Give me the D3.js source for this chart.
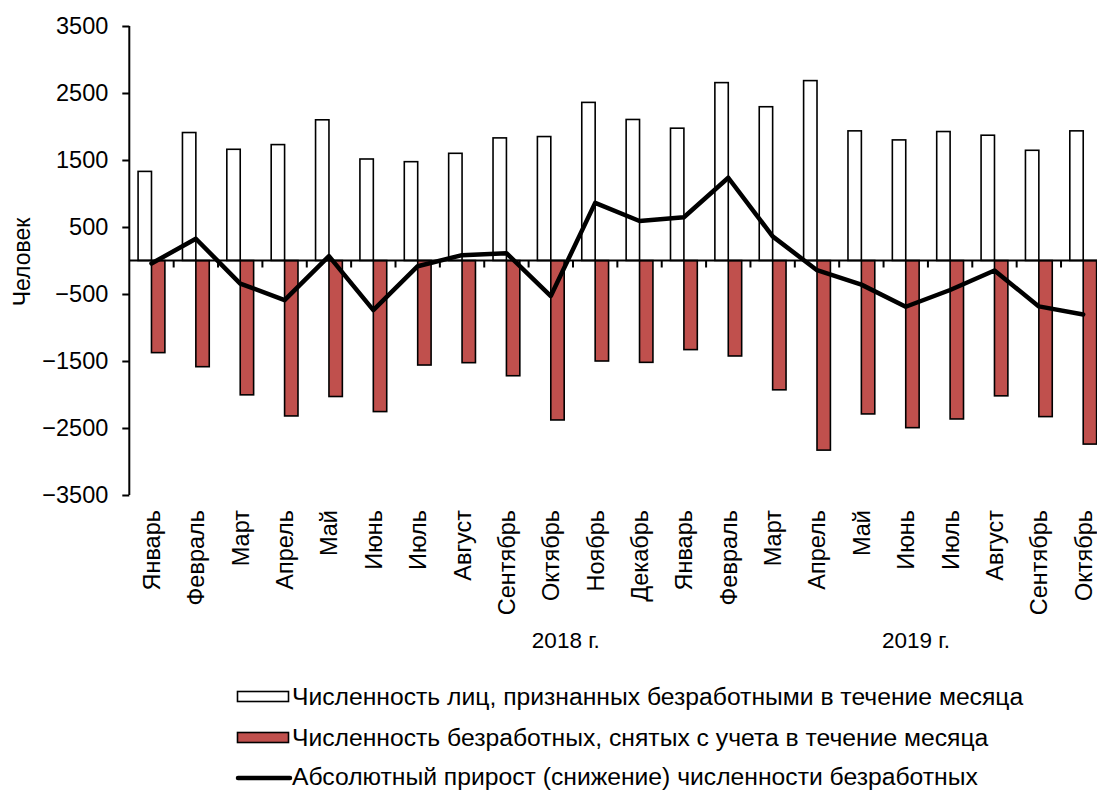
<!DOCTYPE html>
<html>
<head>
<meta charset="utf-8">
<script src="https://cdn.jsdelivr.net/npm/d3@7"></script>
<style>
  html, body { margin: 0; padding: 0; background: #fff; }
  svg { display: block; font-family: "Liberation Sans", Arial, sans-serif; }
</style>
</head>
<body>
<svg id="chart" width="1097" height="790"></svg>
<script>
const months = ["Январь","Февраль","Март","Апрель","Май","Июнь","Июль","Август","Сентябрь","Октябрь","Ноябрь","Декабрь",
                "Январь","Февраль","Март","Апрель","Май","Июнь","Июль","Август","Сентябрь","Октябрь"];
const years = ["2018 г.", "2019 г."];
const recognized = [1330, 1910, 1660, 1730, 2100, 1515, 1475, 1600, 1830, 1850, 2360, 2105,
                    1975, 2655, 2295, 2685, 1935, 1800, 1925, 1870, 1645, 1935];
const removed = [-1375, -1585, -2005, -2320, -2030, -2255, -1560, -1525, -1720, -2380, -1500, -1520,
                 -1330, -1425, -1930, -2830, -2290, -2495, -2365, -2020, -2330, -2740];
const growth = [-45, 325, -345, -590, 65, -740, -85, 80, 110, -530, 860, 590,
                645, 1235, 360, -145, -360, -690, -440, -150, -685, -805];
const yTicks = [-3500, -2500, -1500, -500, 500, 1500, 2500, 3500];
const legendLabels = ["Численность лиц, признанных безработными в течение месяца",
                      "Численность безработных, снятых с учета в течение месяца",
                      "Абсолютный прирост (снижение) численности безработных"];

const svg = d3.select("#chart");
const idx = d3.range(months.length);
const x = d3.scaleBand().domain(idx).range([129.3, 1105.4]).padding(0);
const y = d3.scaleLinear().domain([-3500, 3500]).range([495, 26]);
const bw = 13.4;
const red = "#C0504D";
const cx = i => x(i) + x.bandwidth() / 2;

// bars
const g = svg.append("g");
g.selectAll("rect.rec").data(idx).enter().append("rect")
  .attr("x", i => cx(i) - bw).attr("width", bw)
  .attr("y", i => y(recognized[i])).attr("height", i => y(0) - y(recognized[i]))
  .attr("fill", "#fff").attr("stroke", "#000").attr("stroke-width", 1.6);
g.selectAll("rect.rem").data(idx).enter().append("rect")
  .attr("x", i => cx(i)).attr("width", bw)
  .attr("y", y(0)).attr("height", i => y(removed[i]) - y(0))
  .attr("fill", red).attr("stroke", "#000").attr("stroke-width", 1.6);

// y axis
const yAxis = d3.axisLeft(y).tickValues(yTicks).tickSize(7).tickPadding(14).tickFormat(d3.format("d"));
const ya = svg.append("g").attr("transform", "translate(129.3,0)").call(yAxis);
ya.select(".domain").attr("stroke", "#000").attr("stroke-width", 2).attr("d", "M0," + y(3500) + "V" + y(-3500));
ya.selectAll(".tick line").attr("stroke", "#000").attr("stroke-width", 2);
ya.selectAll(".tick text").attr("font-size", 23.5).attr("fill", "#000").attr("font-family", "Liberation Sans, Arial, sans-serif");

// zero axis with ticks at category boundaries
const xa = svg.append("g");
xa.append("line").attr("x1", 129.3).attr("x2", 1105.4).attr("y1", y(0)).attr("y2", y(0))
  .attr("stroke", "#000").attr("stroke-width", 2);
xa.selectAll("line.t").data(idx.slice(1).concat([months.length])).enter().append("line")
  .attr("x1", i => x.range()[0] + i * x.bandwidth()).attr("x2", i => x.range()[0] + i * x.bandwidth())
  .attr("y1", y(0)).attr("y2", y(0) + 7).attr("stroke", "#000").attr("stroke-width", 2);

// line
const line = d3.line().x(i => cx(i)).y(i => y(growth[i]));
svg.append("path").datum(idx).attr("d", line)
  .attr("fill", "none").attr("stroke", "#000").attr("stroke-width", 4.5)
  .attr("stroke-linejoin", "round").attr("stroke-linecap", "round");

// month labels
svg.append("g").selectAll("text").data(idx).enter().append("text")
  .attr("transform", i => `translate(${cx(i)},510) rotate(-90)`)
  .attr("text-anchor", "end").attr("dy", "0.36em")
  .attr("font-size", 23.5).attr("fill", "#000")
  .text(i => months[i]);

// year labels
svg.append("text").attr("x", x(9) + x.bandwidth() * 0.84).attr("y", 648)
  .attr("text-anchor", "middle").attr("font-size", 22.5).text(years[0]);
svg.append("text").attr("x", x(17) + x.bandwidth() * 0.73).attr("y", 648)
  .attr("text-anchor", "middle").attr("font-size", 22.5).text(years[1]);

// y title
svg.append("text").attr("transform", "translate(22,262) rotate(-90)")
  .attr("text-anchor", "middle").attr("dy", "0.36em").attr("font-size", 23).text("Человек");

// legend
const lg = svg.append("g");
const rows = [696.5, 737.5, 776.5];
lg.append("rect").attr("x", 237.5).attr("y", rows[0] - 5).attr("width", 51).attr("height", 10)
  .attr("fill", "#fff").attr("stroke", "#000").attr("stroke-width", 1.6);
lg.append("rect").attr("x", 237.5).attr("y", rows[1] - 5).attr("width", 51).attr("height", 10)
  .attr("fill", red).attr("stroke", "#000").attr("stroke-width", 1.6);
lg.append("line").attr("x1", 238).attr("x2", 290).attr("y1", rows[2] + 1.5).attr("y2", rows[2] + 1.5)
  .attr("stroke", "#000").attr("stroke-width", 4.5).attr("stroke-linecap", "round");
lg.selectAll("text").data(legendLabels).enter().append("text")
  .attr("x", 292).attr("y", (d, i) => rows[i]).attr("dy", "0.36em")
  .attr("font-size", 24.7).attr("fill", "#000").text(d => d);
</script>
</body>
</html>
